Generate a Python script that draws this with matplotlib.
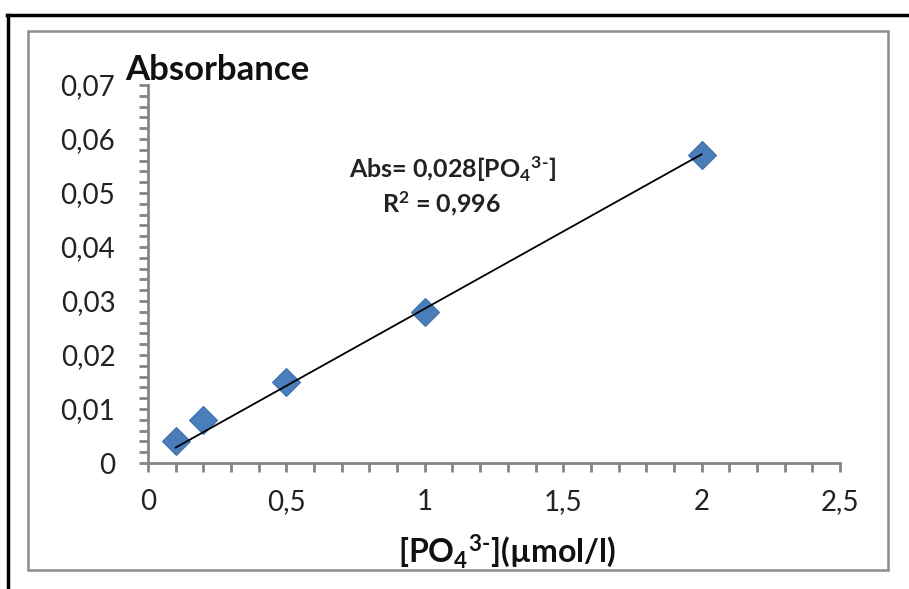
import numpy as np
import matplotlib.pyplot as plt
from matplotlib.lines import Line2D
from matplotlib.patches import Rectangle
from matplotlib.ticker import MultipleLocator, FixedLocator

plt.rcParams['font.family'] = ['Lato', 'DejaVu Sans']
plt.rcParams['mathtext.fontset'] = 'custom'
plt.rcParams['mathtext.rm'] = 'Lato:bold'
plt.rcParams['mathtext.it'] = 'Lato:bold'
plt.rcParams['mathtext.bf'] = 'Lato:bold'

# data
conc = [0.1, 0.2, 0.5, 1.0, 2.0]
absorb = [0.004, 0.008, 0.015, 0.028, 0.057]

x_ticks = [0, 0.5, 1, 1.5, 2, 2.5]
x_labels = ['0', '0,5', '1', '1,5', '2', '2,5']
y_ticks = [0, 0.01, 0.02, 0.03, 0.04, 0.05, 0.06, 0.07]
y_labels = ['0', '0,01', '0,02', '0,03', '0,04', '0,05', '0,06', '0,07']

W, H = 909, 589
fig = plt.figure(figsize=(W / 100, H / 100), dpi=100)

# outer frame (black, top + left) and inner gray box
fig.add_artist(Line2D([7 / W, 1], [1 - 15 / H, 1 - 15 / H], color='black', lw=2.5))
fig.add_artist(Line2D([8 / W, 8 / W], [0, 1 - 15 / H], color='black', lw=2.5))
fig.add_artist(Rectangle((28 / W, 1 - 570 / H), 860 / W, 539 / H, fill=False,
                         edgecolor='#8c8c8c', lw=1.8, transform=fig.transFigure))

ax = fig.add_axes([148 / W, 1 - 463 / H, 692 / W, 378 / H])

# linear trendline through origin
x = np.array(conc)
y = np.array(absorb)
slope = (x * y).sum() / (x * x).sum()
xl = np.array([conc[0], conc[-1]])
ax.plot(xl, slope * xl, color='black', lw=1.3, zorder=3)

ax.plot(conc, absorb, linestyle='none', marker='D', ms=14, color='#4a7ebb',
        markeredgecolor='#3d6fae', markeredgewidth=0.8, zorder=2)

ax.set_xlim(0, 2.5)
ax.set_ylim(0, 0.07)
ax.xaxis.set_major_locator(FixedLocator(x_ticks))
ax.set_xticklabels(x_labels)
ax.yaxis.set_major_locator(FixedLocator(y_ticks))
ax.set_yticklabels(y_labels)
ax.xaxis.set_minor_locator(MultipleLocator(0.1))
ax.yaxis.set_minor_locator(MultipleLocator(0.002))

for s in ['top', 'right']:
    ax.spines[s].set_visible(False)
for s in ['left', 'bottom']:
    ax.spines[s].set_color('#868686')
    ax.spines[s].set_linewidth(2)

ax.tick_params(which='both', direction='out', length=6.5, width=2, color='#868686')
ax.tick_params(axis='y', which='major', pad=17, labelsize=20, labelcolor='#222222')
ax.tick_params(axis='x', which='major', pad=12, labelsize=20, labelcolor='#222222')

fig.text(125 / W, 1 - 80 / H, 'Absorbance', fontsize=25, fontweight='bold', color='#111111')
fig.text(453 / W, 1 - 178 / H, r'Abs= 0,028[PO$_4$$^{3\text{-}}$]', fontsize=18,
         fontweight='bold', color='#222222', ha='center')
fig.text(441 / W, 1 - 212 / H, 'R$^2$ = 0,996', fontsize=18, fontweight='bold',
         color='#222222', ha='center')
fig.text(507 / W, 1 - 563 / H, r'[PO$_4$$^{3\text{-}}$](µmol/l)', fontsize=23,
         fontweight='bold', color='#111111', ha='center')

fig.savefig('out.png', dpi=100)
